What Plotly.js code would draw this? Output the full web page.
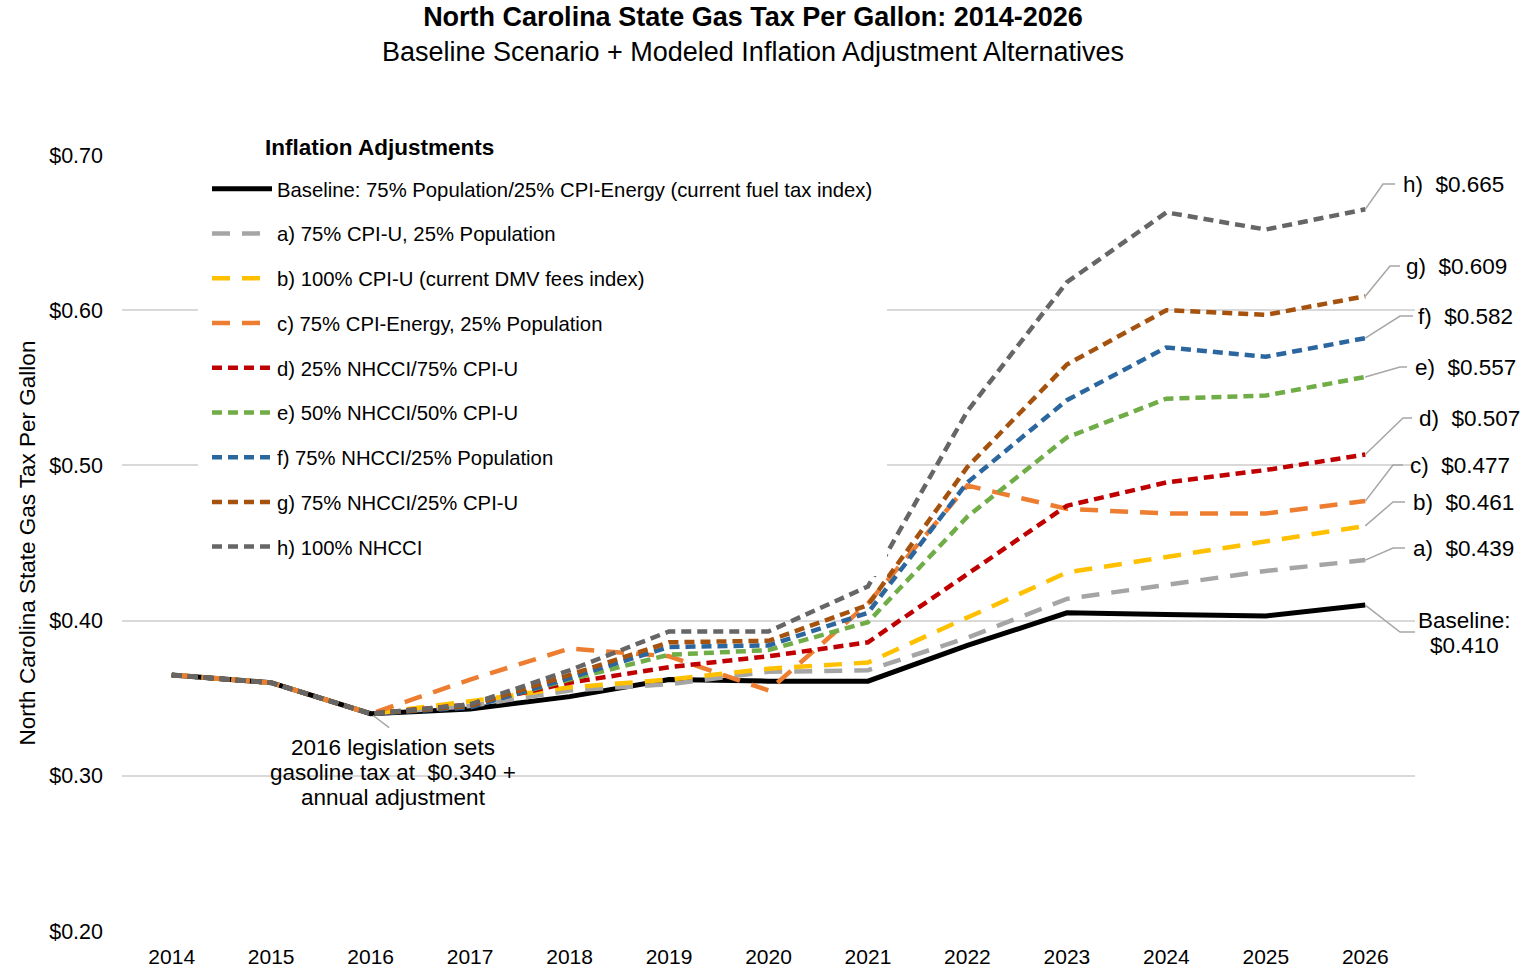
<!DOCTYPE html>
<html>
<head>
<meta charset="utf-8">
<script src="https://cdn.plot.ly/plotly-3.0.1.min.js"></script>
<style>html,body{margin:0;padding:0;background:#fff;}#chart{width:1532px;height:969px;}</style>
</head>
<body>
<div id="chart"></div>
<script>
// ---- Data ----
var years = [2014, 2015, 2016, 2017, 2018, 2019, 2020, 2021, 2022, 2023, 2024, 2025, 2026];
var baseline = [0.365, 0.360, 0.340, 0.343, 0.351, 0.362, 0.361, 0.361, 0.384, 0.405, 0.404, 0.403, 0.410];
var seriesA  = [0.365, 0.360, 0.340, 0.345, 0.355, 0.359, 0.367, 0.368, 0.389, 0.414, 0.423, 0.432, 0.439];
var seriesB  = [0.365, 0.360, 0.340, 0.348, 0.357, 0.362, 0.369, 0.373, 0.402, 0.431, 0.441, 0.451, 0.461];
var seriesC  = [0.365, 0.360, 0.340, 0.362, 0.382, 0.377, 0.355, 0.411, 0.487, 0.472, 0.469, 0.469, 0.477];
var seriesD  = [0.365, 0.360, 0.340, 0.346, 0.360, 0.370, 0.377, 0.386, 0.430, 0.474, 0.489, 0.497, 0.507];
var seriesE  = [0.365, 0.360, 0.340, 0.345, 0.362, 0.378, 0.381, 0.399, 0.467, 0.518, 0.543, 0.545, 0.557];
var seriesF  = [0.365, 0.360, 0.340, 0.344, 0.363, 0.383, 0.384, 0.405, 0.489, 0.542, 0.576, 0.570, 0.582];
var seriesG  = [0.365, 0.360, 0.340, 0.345, 0.365, 0.386, 0.387, 0.410, 0.499, 0.565, 0.600, 0.597, 0.609];
var seriesH  = [0.365, 0.360, 0.340, 0.346, 0.368, 0.393, 0.393, 0.422, 0.535, 0.618, 0.663, 0.652, 0.665];

var seriesNames = [
  "Baseline: 75% Population/25% CPI-Energy (current fuel tax index)",
  "a) 75% CPI-U, 25% Population",
  "b) 100% CPI-U (current DMV fees index)",
  "c) 75% CPI-Energy, 25% Population",
  "d) 25% NHCCI/75% CPI-U",
  "e) 50% NHCCI/50% CPI-U",
  "f) 75% NHCCI/25% Population",
  "g) 75% NHCCI/25% CPI-U",
  "h) 100% NHCCI"
];
var endLetters = ["Baseline", "a", "b", "c", "d", "e", "f", "g", "h"];
var yTickVals = [0.2, 0.3, 0.4, 0.5, 0.6, 0.7];
var yTickText = ["$0.20", "$0.30", "$0.40", "$0.50", "$0.60", "$0.70"];
var noteLines = ["2016 legislation sets", "gasoline tax at\u00a0 $0.340 +", "annual adjustment"];

// ---- Styles ----
var allSeries = [baseline, seriesA, seriesB, seriesC, seriesD, seriesE, seriesF, seriesG, seriesH];
var colors = ["#000000", "#A5A5A5", "#FFC000", "#ED7D31", "#C00000", "#70AD47", "#2B669E", "#A5520F", "#666666"];
var dashes = ["solid", "18px,12px", "18px,12px", "18px,12px", "10px,6px", "10px,6px", "10px,6px", "10px,6px", "10px,6px"];
var widths = [5, 4.5, 4.5, 4.5, 4.5, 4.5, 4.5, 4.5, 4.5];

var FONT = "Liberation Sans, Arial, sans-serif";

var traces = allSeries.map(function (vals, i) {
  return {
    type: "scatter",
    mode: "lines",
    x: years,
    y: vals,
    name: seriesNames[i],
    legendgroup: "g" + i,
    line: {color: colors[i], width: widths[i], dash: dashes[i]},
    hoverinfo: "x+y+name"
  };
});

// pixel helpers for plot geometry (plot area 122..1415 x, 155..931 y)
var PL = 122, PR = 1415, PT = 155, PB = 931;
function pxToYData(py) { return 0.2 + (PB - py) / (PB - PT) * 0.5; }
function pxToXData(px) { return 2013.5 + (px - PL) / (PR - PL) * 13; }
function pxToPaperX(px) { return (px - PL) / (PR - PL); }
function pxToPaperY(py) { return (PB - py) / (PB - PT); }

// end-label layout positions (pixels): elbow start x, elbow end x, label y, text x
var labelPos = [
  {ex1: 1400, ex2: 1415, ly: 632, tx: 1464},  // baseline (text centered)
  {ex1: 1393, ex2: 1405, ly: 548, tx: 1411},  // a
  {ex1: 1393, ex2: 1405, ly: 502, tx: 1411},  // b
  {ex1: 1393, ex2: 1403, ly: 465, tx: 1408},  // c
  {ex1: 1403, ex2: 1412, ly: 418, tx: 1417},  // d
  {ex1: 1400, ex2: 1407, ly: 367, tx: 1413},  // e
  {ex1: 1400, ex2: 1413, ly: 316, tx: 1416},  // f
  {ex1: 1390, ex2: 1400, ly: 266, tx: 1404},  // g
  {ex1: 1383, ex2: 1395, ly: 184, tx: 1401}   // h
];

var shapes = [];
var annotations = [];
var lastIdx = years.length - 1;
allSeries.forEach(function (vals, i) {
  var p = labelPos[i];
  var x0 = years[lastIdx], y0 = vals[lastIdx];
  var ly = pxToYData(p.ly);
  shapes.push({
    type: "path", xref: "x", yref: "y", layer: "above",
    path: "M " + x0 + "," + y0 + " L " + pxToXData(p.ex1) + "," + ly + " L " + pxToXData(p.ex2) + "," + ly,
    line: {color: "#A6A6A6", width: 1.5}
  });
  var valText = "$" + vals[lastIdx].toFixed(3);
  if (i === 0) {
    annotations.push({
      xref: "paper", yref: "y", x: pxToPaperX(p.tx), y: pxToYData(620),
      xanchor: "center", yanchor: "middle", showarrow: false,
      text: endLetters[i] + ":", font: {family: FONT, size: 22.5, color: "#000"}
    });
    annotations.push({
      xref: "paper", yref: "y", x: pxToPaperX(p.tx), y: pxToYData(645),
      xanchor: "center", yanchor: "middle", showarrow: false,
      text: valText, font: {family: FONT, size: 22.5, color: "#000"}
    });
  } else {
    annotations.push({
      xref: "paper", yref: "y", x: pxToPaperX(p.tx), y: ly,
      xanchor: "left", yanchor: "middle", showarrow: false,
      text: endLetters[i] + ")\u00a0 " + valText,
      font: {family: FONT, size: 22.5, color: "#000"}
    });
  }
});

// legend title
annotations.push({
  xref: "paper", yref: "paper", x: pxToPaperX(263), y: pxToPaperY(147),
  xanchor: "left", yanchor: "middle", showarrow: false,
  text: "<b>Inflation Adjustments</b>",
  font: {family: FONT, size: 22.5, color: "#000"}
});

// 2016 legislation note (three lines, tight spacing as in the reference)
var noteY = [747, 772, 797];
noteLines.forEach(function (t, k) {
  annotations.push({
    xref: "paper", yref: "y", x: pxToPaperX(393), y: pxToYData(noteY[k]),
    xanchor: "center", yanchor: "middle", showarrow: false,
    text: t, font: {family: FONT, size: 22.5, color: "#000"}
  });
});
annotations.push({
  xref: "x", yref: "y", x: years[2], y: baseline[2],
  text: "", showarrow: true, arrowhead: 0, arrowwidth: 1.5, arrowcolor: "#A6A6A6",
  ax: 20, ay: 15, standoff: 3
});

var layout = {
  width: 1532, height: 969,
  paper_bgcolor: "#ffffff", plot_bgcolor: "#ffffff",
  margin: {l: PL, r: 1532 - PR, t: PT, b: 969 - PB, pad: 0},
  font: {family: FONT, size: 21, color: "#000"},
  title: {
    text: "<b>North Carolina State Gas Tax Per Gallon: 2014-2026</b><br><span style='font-weight:normal'>Baseline Scenario + Modeled Inflation Adjustment Alternatives</span>",
    font: {family: FONT, size: 27, color: "#000"},
    xref: "container", x: 753 / 1532, xanchor: "center",
    yref: "container", y: 1 - 26 / 969, yanchor: "middle"
  },
  xaxis: {
    range: [2013.5, 2026.5], tickmode: "array", tickvals: years,
    ticktext: years.map(String), showgrid: false, zeroline: false, showline: false,
    ticks: "", ticklabelstandoff: 11, tickfont: {family: FONT, size: 21, color: "#000"},
    fixedrange: true
  },
  yaxis: {
    range: [0.2, 0.7], tickmode: "array", tickvals: yTickVals, ticktext: yTickText,
    showgrid: true, gridcolor: "#D9D9D9", gridwidth: 1.5, zeroline: false, showline: false,
    ticks: "", ticklabelstandoff: 18, tickfont: {family: FONT, size: 21.5, color: "#000"},
    title: {text: "North Carolina State Gas Tax Per Gallon", font: {family: FONT, size: 22.5, color: "#000"}, standoff: 7},
    fixedrange: true
  },
  showlegend: true,
  legend: {
    x: pxToPaperX(198), y: pxToPaperY(160), xanchor: "left", yanchor: "top",
    bgcolor: "#ffffff", bordercolor: "#ffffff", borderwidth: 9,
    font: {family: FONT, size: 20.3, color: "#000"},
    itemwidth: 60, tracegroupgap: 15.35, traceorder: "grouped",
    itemclick: false, itemdoubleclick: false
  },
  shapes: shapes,
  annotations: annotations
};

Plotly.newPlot("chart", traces, layout, {displayModeBar: false});
</script>
</body>
</html>
